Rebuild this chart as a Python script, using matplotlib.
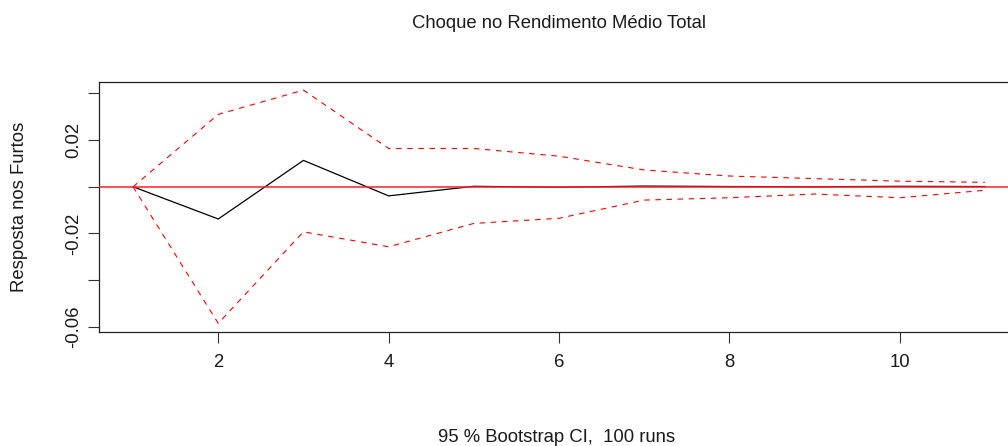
import matplotlib
matplotlib.use("Agg")
import matplotlib.pyplot as plt
import numpy as np

steps = [1, 2, 3, 4, 5, 6, 7, 8, 9, 10, 11]
irf = [0.0, -0.0138, 0.0113, -0.0039, 0.0002, -0.0002, 0.0003, 0.0001, 0.0, 0.0002, 0.0001]
upper = [0.0, 0.031, 0.0414, 0.0164, 0.0164, 0.0131, 0.0072, 0.0046, 0.0035, 0.0024, 0.0019]
lower = [0.0, -0.0585, -0.0193, -0.0257, -0.0157, -0.0135, -0.0057, -0.0047, -0.0031, -0.0047, -0.0015]
xticks = [2, 4, 6, 8, 10]
yticks = [0.04, 0.02, 0.0, -0.02, -0.04, -0.06]
ylabels = ["", "0.02", "", "-0.02", "", "-0.06"]

W, H = 1008, 446
fig = plt.figure(figsize=(W / 100, H / 100), dpi=100)
plt.rcParams['font.family'] = ['Liberation Sans', 'DejaVu Sans']
fs = 13.3
tc = '#1a1a1a'

left, right, top, bottom = 99, 1019, 81.7, 332
ax = fig.add_axes([left / W, 1 - bottom / H, (right - left) / W, (bottom - top) / H])

ax.plot(steps, irf, color='black', lw=0.9, zorder=2)
ax.plot(steps, upper, color='red', lw=0.8, linestyle=(0, (5, 5)), zorder=2)
ax.plot(steps, lower, color='red', lw=0.8, linestyle=(0, (5, 5)), zorder=2)
ax.axhline(0, color='#ff2020', lw=1.1, zorder=3)

ax.set_xlim(0.6, 11.4)
ax.set_ylim(-0.0622, 0.045)
ax.set_xticks(xticks)
ax.set_yticks(yticks)
ax.set_yticklabels(ylabels, rotation=90, va='center')
ax.tick_params(axis='both', direction='out', length=8, width=0.8, color='#333333',
               labelsize=fs, labelcolor=tc)
ax.tick_params(axis='x', pad=8)
ax.tick_params(axis='y', pad=4)
for s in ax.spines.values():
    s.set_linewidth(0.9)
    s.set_color('#222222')

fig.text(559 / W, 1 - 23 / H, "Choque no Rendimento Médio Total", ha='center', va='center', fontsize=fs, color=tc)
fig.text(557 / W, 1 - 437 / H, "95 % Bootstrap CI,  100 runs", ha='center', va='center', fontsize=fs, color=tc)
fig.text(20 / W, 1 - 207 / H, "Resposta nos Furtos", ha='center', va='center', rotation=90, fontsize=fs, color=tc)

fig.savefig("out.png", dpi=100)
